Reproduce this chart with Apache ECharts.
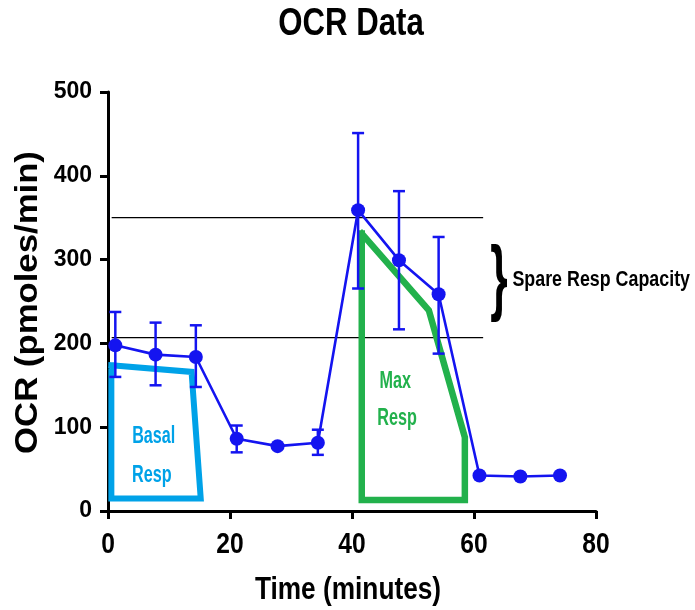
<!DOCTYPE html>
<html>
<head>
<meta charset="utf-8">
<script src="https://cdn.jsdelivr.net/npm/echarts@6/dist/echarts.min.js"></script>
<style>
html,body{margin:0;padding:0;background:#fff;}
#chart{width:695px;height:610px;}
</style>
</head>
<body>
<div id="chart"></div>
<script>
// ---- data ----
const xTimes   = [1.2, 7.8, 14.4, 21.1, 27.8, 34.4, 41.0, 47.7, 54.2, 60.9, 67.6, 74.1];
const ocrMean  = [197.7, 186.6, 183.8, 86.2, 77.4, 81.5, 359, 299.3, 258.7, 42.4, 41.2, 42.4];
const errLow   = [160, 150, 148, 70, null, 67, 265.5, 216.8, 187.8, null, null, null];
const errHigh  = [237.5, 224.8, 221.6, 102, null, 97, 451, 381.7, 327, null, null, null];
const refLevels = [350, 207];
const refXRange = [0.6, 61.5];
const basalBox = [[0.55, 174], [13.7, 166], [15.2, 15], [0.55, 15], [0.55, 174]];
const maxBox   = [[41.6, 331], [52.6, 239.5], [58.5, 88], [58.5, 13], [41.6, 13], [41.6, 331]];
const xTickValues = [0, 20, 40, 60, 80];
const xTickLabels = ['0', '20', '40', '60', '80'];
const yTickValues = [0, 100, 200, 300, 400, 500];
const titleText = 'OCR Data';
const xName = 'Time (minutes)';
const yName = 'OCR (pmoles/min)';

// ---- styles ----
const ARIAL = '"Liberation Sans", Arial, sans-serif';
const dataBlue = '#1414f0';
const basalBlue = '#00a2e8';
const maxGreen = '#22b14c';
const NARROW_X = 0.82; // horizontal squeeze to mimic the condensed look

const chart = echarts.init(document.getElementById('chart'), null, {renderer: 'canvas'});

const meanData = xTimes.map((t, i) => [t, ocrMean[i]]);
const errData = xTimes.map((t, i) => [t, errLow[i], errHigh[i]]).filter(d => d[1] != null);

const refSeries = refLevels.map(v => ({
  type: 'line',
  data: [[refXRange[0], v], [refXRange[1], v]],
  symbol: 'none',
  silent: true,
  lineStyle: {color: '#000', width: 1.2},
  z: 2
}));

const option = {
  animation: false,
  backgroundColor: '#fff',
  grid: {left: 108, right: 99, top: 92, bottom: 99, containLabel: false},
  xAxis: {
    type: 'value',
    min: xTickValues[0], max: xTickValues[xTickValues.length - 1], interval: xTickValues[1] - xTickValues[0],
    axisLine: {show: true, onZero: false, lineStyle: {color: '#000', width: 3}},
    axisTick: {show: true, length: 8, lineStyle: {color: '#000', width: 3}},
    axisLabel: {show: false},
    splitLine: {show: false}
  },
  yAxis: {
    type: 'value',
    min: yTickValues[0], max: yTickValues[yTickValues.length - 1], interval: yTickValues[1] - yTickValues[0],
    axisLine: {show: true, onZero: false, lineStyle: {color: '#000', width: 3}},
    axisTick: {show: true, length: 8, lineStyle: {color: '#000', width: 3}},
    axisLabel: {fontFamily: ARIAL, fontWeight: 'bold', fontSize: 23, color: '#000', margin: 16},
    splitLine: {show: false}
  },
  series: [
    ...refSeries,
    {
      type: 'line',
      data: basalBox,
      symbol: 'none',
      silent: true,
      lineStyle: {color: basalBlue, width: 6, join: 'miter', cap: 'square'},
      z: 3
    },
    {
      type: 'line',
      data: maxBox,
      symbol: 'none',
      silent: true,
      lineStyle: {color: maxGreen, width: 6.5, join: 'miter', cap: 'square'},
      z: 3
    },
    {
      type: 'custom',
      data: errData,
      z: 5,
      renderItem: function (params, api) {
        const x = api.value(0);
        const pLo = api.coord([x, api.value(1)]);
        const pHi = api.coord([x, api.value(2)]);
        const hw = 6;
        const st = {stroke: dataBlue, lineWidth: 2.5};
        return {
          type: 'group',
          children: [
            {type: 'line', shape: {x1: pHi[0], y1: pHi[1], x2: pLo[0], y2: pLo[1]}, style: st},
            {type: 'line', shape: {x1: pHi[0] - hw, y1: pHi[1], x2: pHi[0] + hw, y2: pHi[1]}, style: st},
            {type: 'line', shape: {x1: pLo[0] - hw, y1: pLo[1], x2: pLo[0] + hw, y2: pLo[1]}, style: st}
          ]
        };
      }
    },
    {
      type: 'line',
      data: meanData,
      symbol: 'circle',
      symbolSize: 14,
      itemStyle: {color: dataBlue},
      lineStyle: {color: dataBlue, width: 2.6},
      z: 6
    }
  ]
};
chart.setOption(option);

// ---- text placed through the chart's own coordinate system ----
const annotations = [
  {text: 'Basal', at: [7.5, 89.5], color: basalBlue},
  {text: 'Resp', at: [7.2, 43], color: basalBlue},
  {text: 'Max', at: [47.1, 155], color: maxGreen},
  {text: 'Resp', at: [47.4, 111], color: maxGreen}
];
const braceAnchor = [64.1, 274];
const spareAnchor = [66.3, 276];

const px = v => chart.convertToPixel({gridIndex: 0}, v);
const graphics = [];

// title
graphics.push({
  type: 'text', x: 351, y: 25, scaleX: NARROW_X, z: 10,
  style: {text: titleText, fontFamily: ARIAL, fontWeight: 'bold', fontSize: 38, fill: '#000',
          textAlign: 'center', textVerticalAlign: 'middle'}
});
// x tick labels
xTickValues.forEach((v, i) => {
  const p = px([v, yTickValues[0]]);
  graphics.push({
    type: 'text', x: p[0], y: p[1] + 34, scaleX: NARROW_X, z: 10,
    style: {text: xTickLabels[i], fontFamily: ARIAL, fontWeight: 'bold', fontSize: 30, fill: '#000',
            textAlign: 'center', textVerticalAlign: 'middle'}
  });
});
// x axis name
{
  const p0 = px([xTickValues[0], yTickValues[0]]);
  const p1 = px([xTickValues[xTickValues.length - 1], yTickValues[0]]);
  graphics.push({
    type: 'text', x: (p0[0] + p1[0]) / 2 - 4, y: p0[1] + 79, scaleX: NARROW_X, z: 10,
    style: {text: xName, fontFamily: ARIAL, fontWeight: 'bold', fontSize: 32, fill: '#000',
            textAlign: 'center', textVerticalAlign: 'middle'}
  });
}
// y axis name (rotated, stretched along its length)
{
  const p0 = px([xTickValues[0], yTickValues[0]]);
  const p1 = px([xTickValues[0], yTickValues[yTickValues.length - 1]]);
  graphics.push({
    type: 'text', x: p0[0] - 80, y: (p0[1] + p1[1]) / 2 + 1, rotation: Math.PI / 2, scaleX: 1.12, z: 10,
    style: {text: yName, fontFamily: ARIAL, fontWeight: 'bold', fontSize: 31, fill: '#000',
            textAlign: 'center', textVerticalAlign: 'middle'}
  });
}
annotations.forEach(a => {
  const p = px(a.at);
  graphics.push({
    type: 'text', x: p[0], y: p[1], scaleX: 0.81, scaleY: 1.2, z: 10,
    style: {text: a.text, fontFamily: ARIAL, fontWeight: 'bold', fontSize: 20, fill: a.color,
            textAlign: 'center', textVerticalAlign: 'middle'}
  });
});
const pb = px(braceAnchor);
graphics.push({
  type: 'text', x: pb[0], y: pb[1], scaleX: 0.8, scaleY: 1.5, z: 10,
  style: {text: '}', fontFamily: ARIAL, fontWeight: 'bold', fontSize: 56, fill: '#000',
          textAlign: 'center', textVerticalAlign: 'middle'}
});
const ps = px(spareAnchor);
graphics.push({
  type: 'text', x: ps[0], y: ps[1], scaleX: 0.85, scaleY: 1.05, z: 10,
  style: {text: 'Spare Resp Capacity', fontFamily: ARIAL, fontWeight: 'bold', fontSize: 21, fill: '#000',
          textAlign: 'left', textVerticalAlign: 'middle'}
});
chart.setOption({graphic: graphics});
</script>
</body>
</html>
